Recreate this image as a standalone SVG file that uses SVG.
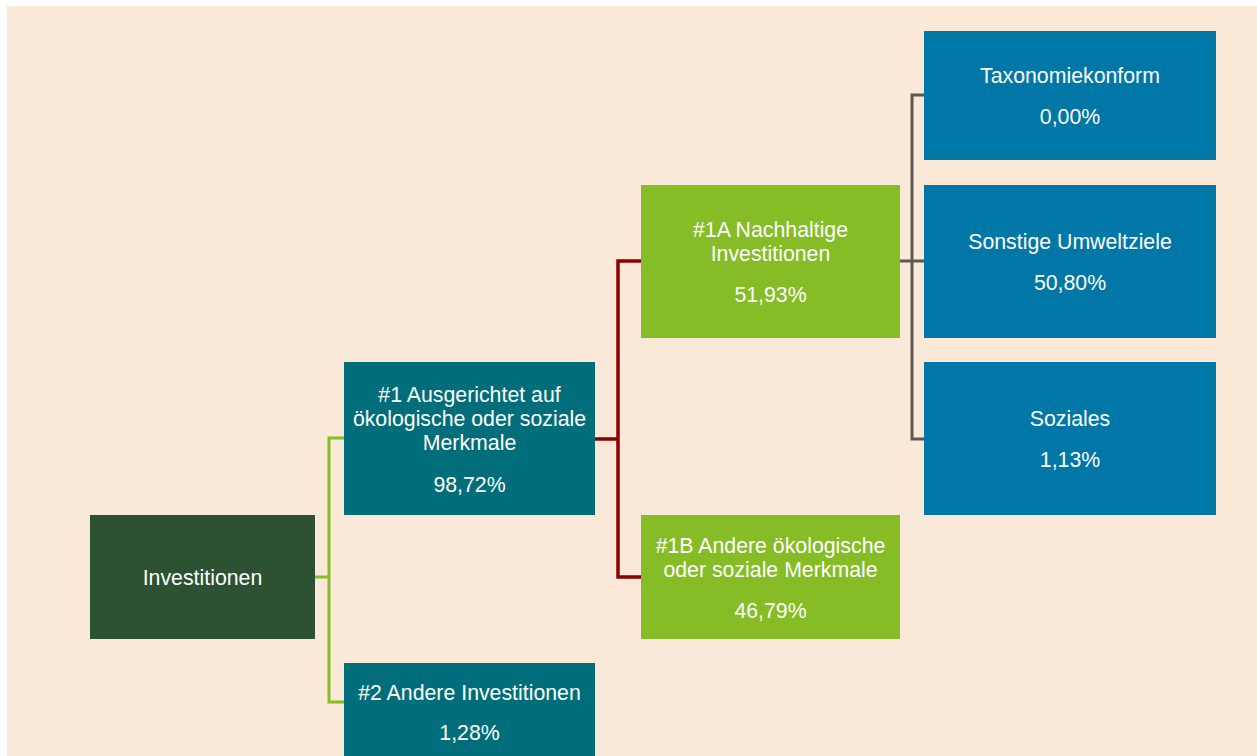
<svg xmlns="http://www.w3.org/2000/svg" width="1257" height="756" viewBox="0 0 1257 756">
<style>
text{font-family:"Liberation Sans",Arial,sans-serif;font-size:21.3px;fill:#ffffff;text-anchor:middle}
.dg{fill:#2C5233}.tl{fill:#006E7A}.lg{fill:#86BC25}.bl{fill:#0077A7}
.c{fill:none;stroke-linejoin:miter}
</style>
<rect x="0" y="0" width="1257" height="756" fill="#ffffff"/>
<rect x="7" y="6" width="1250" height="750" fill="#FAE9D8"/>
<g id="connectors">
<path class="c" d="M315 577H329M344 438H329V702H344" stroke="#86BC25" stroke-width="3"/>
<path class="c" d="M595 439H618M641 261H618V577H641" stroke="#8B0000" stroke-width="3.5"/>
<path class="c" d="M900 261H924M924 95H912V439H924" stroke="#595959" stroke-width="3"/>
</g>
<g id="n-investitionen"><rect class="dg" x="90" y="515" width="225" height="124"/><text x="202.5" y="585">Investitionen</text></g>
<g id="n-1"><rect class="tl" x="344" y="362" width="251" height="153"/><text x="469.5" y="401.5">#1 Ausgerichtet auf</text><text x="469.5" y="425.5">ökologische oder soziale</text><text x="469.5" y="449.5">Merkmale</text><text x="469.5" y="491.5">98,72%</text></g>
<g id="n-2"><rect class="tl" x="344" y="663" width="251" height="93"/><text x="469.5" y="700">#2 Andere Investitionen</text><text x="469.5" y="740">1,28%</text></g>
<g id="n-1a"><rect class="lg" x="641" y="185" width="259" height="153"/><text x="770.5" y="236.5">#1A Nachhaltige</text><text x="770.5" y="260.5">Investitionen</text><text x="770.5" y="301.5">51,93%</text></g>
<g id="n-1b"><rect class="lg" x="641" y="515" width="259" height="124"/><text x="770.5" y="552.5">#1B Andere ökologische</text><text x="770.5" y="577">oder soziale Merkmale</text><text x="770.5" y="618">46,79%</text></g>
<g id="n-tax"><rect class="bl" x="924" y="31" width="292" height="129"/><text x="1070" y="83">Taxonomiekonform</text><text x="1070" y="123.5">0,00%</text></g>
<g id="n-umwelt"><rect class="bl" x="924" y="185" width="292" height="153"/><text x="1070" y="249">Sonstige Umweltziele</text><text x="1070" y="290">50,80%</text></g>
<g id="n-soziales"><rect class="bl" x="924" y="362" width="292" height="153"/><text x="1070" y="426">Soziales</text><text x="1070" y="467">1,13%</text></g>
</svg>
